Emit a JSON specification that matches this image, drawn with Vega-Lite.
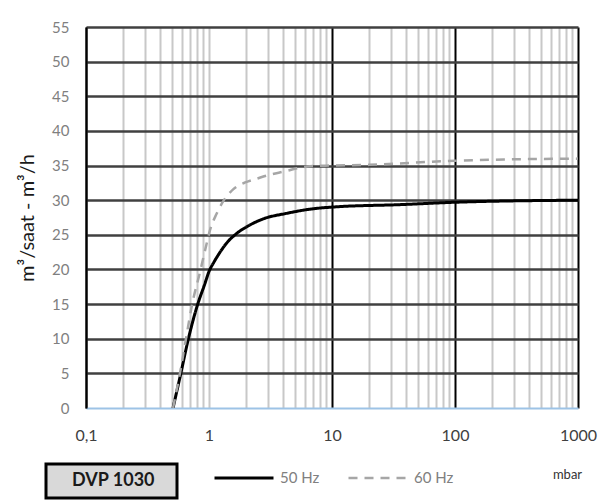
{
  "$schema": "https://vega.github.io/schema/vega-lite/v6.json",
  "width": 492,
  "height": 381,
  "autosize": {"type": "none"},
  "padding": {"left": 86, "top": 27, "right": 22, "bottom": 96},
  "background": "white",
  "config": {
    "view": {"stroke": null},
    "font": "Lato"
  },
  "data": {
    "values": [
      {"p": 0.51, "q": 0, "series": "50 Hz", "model": "DVP 1030"},
      {"p": 0.59, "q": 5, "series": "50 Hz", "model": "DVP 1030"},
      {"p": 0.68, "q": 10, "series": "50 Hz", "model": "DVP 1030"},
      {"p": 0.81, "q": 15, "series": "50 Hz", "model": "DVP 1030"},
      {"p": 0.92, "q": 17.8, "series": "50 Hz", "model": "DVP 1030"},
      {"p": 1.0, "q": 19.7, "series": "50 Hz", "model": "DVP 1030"},
      {"p": 1.1, "q": 21.1, "series": "50 Hz", "model": "DVP 1030"},
      {"p": 1.19, "q": 22.1, "series": "50 Hz", "model": "DVP 1030"},
      {"p": 1.39, "q": 23.8, "series": "50 Hz", "model": "DVP 1030"},
      {"p": 1.68, "q": 25.2, "series": "50 Hz", "model": "DVP 1030"},
      {"p": 2.09, "q": 26.3, "series": "50 Hz", "model": "DVP 1030"},
      {"p": 2.76, "q": 27.3, "series": "50 Hz", "model": "DVP 1030"},
      {"p": 4.28, "q": 28.1, "series": "50 Hz", "model": "DVP 1030"},
      {"p": 6.6, "q": 28.7, "series": "50 Hz", "model": "DVP 1030"},
      {"p": 11, "q": 29.05, "series": "50 Hz", "model": "DVP 1030"},
      {"p": 35, "q": 29.35, "series": "50 Hz", "model": "DVP 1030"},
      {"p": 100, "q": 29.7, "series": "50 Hz", "model": "DVP 1030"},
      {"p": 1000, "q": 30.0, "series": "50 Hz", "model": "DVP 1030"},
      {"p": 0.51, "q": 0, "series": "60 Hz", "model": "DVP 1030"},
      {"p": 0.58, "q": 5, "series": "60 Hz", "model": "DVP 1030"},
      {"p": 0.65, "q": 10, "series": "60 Hz", "model": "DVP 1030"},
      {"p": 0.73, "q": 15, "series": "60 Hz", "model": "DVP 1030"},
      {"p": 0.85, "q": 19.8, "series": "60 Hz", "model": "DVP 1030"},
      {"p": 0.95, "q": 23.5, "series": "60 Hz", "model": "DVP 1030"},
      {"p": 1.02, "q": 25.7, "series": "60 Hz", "model": "DVP 1030"},
      {"p": 1.15, "q": 28.0, "series": "60 Hz", "model": "DVP 1030"},
      {"p": 1.28, "q": 29.6, "series": "60 Hz", "model": "DVP 1030"},
      {"p": 1.58, "q": 31.6, "series": "60 Hz", "model": "DVP 1030"},
      {"p": 2.0, "q": 32.6, "series": "60 Hz", "model": "DVP 1030"},
      {"p": 2.44, "q": 33.1, "series": "60 Hz", "model": "DVP 1030"},
      {"p": 3.0, "q": 33.6, "series": "60 Hz", "model": "DVP 1030"},
      {"p": 4.0, "q": 34.1, "series": "60 Hz", "model": "DVP 1030"},
      {"p": 6.6, "q": 34.9, "series": "60 Hz", "model": "DVP 1030"},
      {"p": 10, "q": 35.0, "series": "60 Hz", "model": "DVP 1030"},
      {"p": 20, "q": 35.1, "series": "60 Hz", "model": "DVP 1030"},
      {"p": 35, "q": 35.3, "series": "60 Hz", "model": "DVP 1030"},
      {"p": 100, "q": 35.7, "series": "60 Hz", "model": "DVP 1030"},
      {"p": 300, "q": 35.9, "series": "60 Hz", "model": "DVP 1030"},
      {"p": 1000, "q": 36.0, "series": "60 Hz", "model": "DVP 1030"}
    ]
  },
  "mark": {"type": "line", "interpolate": "monotone", "clip": true},
  "encoding": {
    "x": {
      "field": "p",
      "type": "quantitative",
      "scale": {"type": "log", "domain": [0.1, 1000], "nice": false},
      "axis": {
        "values": [0.1, 0.2, 0.3, 0.4, 0.5, 0.6, 0.7, 0.8, 0.9, 1, 2, 3, 4, 5, 6, 7, 8, 9, 10, 20, 30, 40, 50, 60, 70, 80, 90, 100, 200, 300, 400, 500, 600, 700, 800, 900, 1000],
        "labelExpr": "datum.value == 0.1 ? '0,1' : (datum.value == 1 ? '1' : (datum.value == 10 ? '10' : (datum.value == 100 ? '100' : (datum.value == 1000 ? '1000' : ''))))",
        "labelOverlap": false,
        "labelFlush": false,
        "labelFont": "Lato",
        "labelFontSize": 16,
        "labelColor": "#404040",
        "labelPadding": 19,
        "ticks": false,
        "grid": true,
        "gridColor": {"condition": {"test": "datum.value == 10 || datum.value == 100 || datum.value == 0.1 || datum.value == 1000", "value": "#000000"}, "value": "#c8c8c8"},
        "gridWidth": 2,
        "gridOpacity": 1,
        "domain": true,
        "domainColor": "#9dc3e6",
        "domainWidth": 2,
        "title": "mbar",
        "titleFont": "Lato",
        "titleFontSize": 13,
        "titleFontWeight": "normal",
        "titleColor": "#333333",
        "titleX": 481,
        "titleY": 66,
        "titleBaseline": "middle",
        "titleAlign": "center"
      }
    },
    "y": {
      "field": "q",
      "type": "quantitative",
      "scale": {"domain": [0, 55], "nice": false},
      "axis": {
        "values": [0, 5, 10, 15, 20, 25, 30, 35, 40, 45, 50, 55],
        "labelFont": "Lato",
        "labelFontSize": 15,
        "labelColor": "#7f7f7f",
        "labelPadding": 17,
        "ticks": false,
        "grid": true,
        "gridColor": {"condition": {"test": "datum.value == 0", "value": "transparent"}, "value": "#404040"},
        "gridWidth": 2.5,
        "gridOpacity": 1,
        "domain": true,
        "domainColor": "#000000",
        "domainWidth": 2,
        "title": "m³/saat - m³/h",
        "titleFont": "Lato",
        "titleFontSize": 20,
        "titleFontWeight": "normal",
        "titleColor": "#1a1a1a",
        "titlePadding": 14
      }
    },
    "color": {
      "field": "series",
      "type": "nominal",
      "scale": {"domain": ["50 Hz", "60 Hz"], "range": ["#000000", "#a6a6a6"]},
      "legend": {
        "orient": "none",
        "legendX": 127,
        "legendY": 420,
        "direction": "horizontal",
        "title": null,
        "symbolType": "stroke",
        "symbolSize": 3481,
        "symbolStrokeWidth": 3,
        "labelFont": "Lato",
        "labelFontSize": 15,
        "labelColor": "#808080",
        "labelOffset": 5,
        "columnPadding": 23,
        "padding": 0
      }
    },
    "strokeDash": {
      "field": "series",
      "type": "nominal",
      "scale": {"domain": ["50 Hz", "60 Hz"], "range": [[1, 0], [9, 7]]}
    },
    "strokeWidth": {
      "field": "series",
      "type": "nominal",
      "scale": {"domain": ["50 Hz", "60 Hz"], "range": [3, 2.5]}
    },
    "opacity": {
      "field": "model",
      "type": "nominal",
      "scale": {"range": [1, 1]},
      "legend": {
        "orient": "none",
        "legendX": -40,
        "legendY": 437,
        "title": null,
        "symbolOpacity": 0,
        "symbolSize": 0,
        "symbolStrokeWidth": 0,
        "labelOffset": 0,
        "labelFont": "Lato",
        "labelFontSize": 18,
        "labelFontWeight": "bold",
        "labelColor": "#1a1a1a",
        "labelLimit": 300,
        "labelExpr": "datum.label + '\u00a0\u00a0\u00a0\u200b'",
        "padding": 8,
        "fillColor": "#d9d9d9",
        "strokeColor": "#000000",
        "encode": {"legend": {"update": {"strokeWidth": {"value": 3}}}}
      }
    }
  }
}
